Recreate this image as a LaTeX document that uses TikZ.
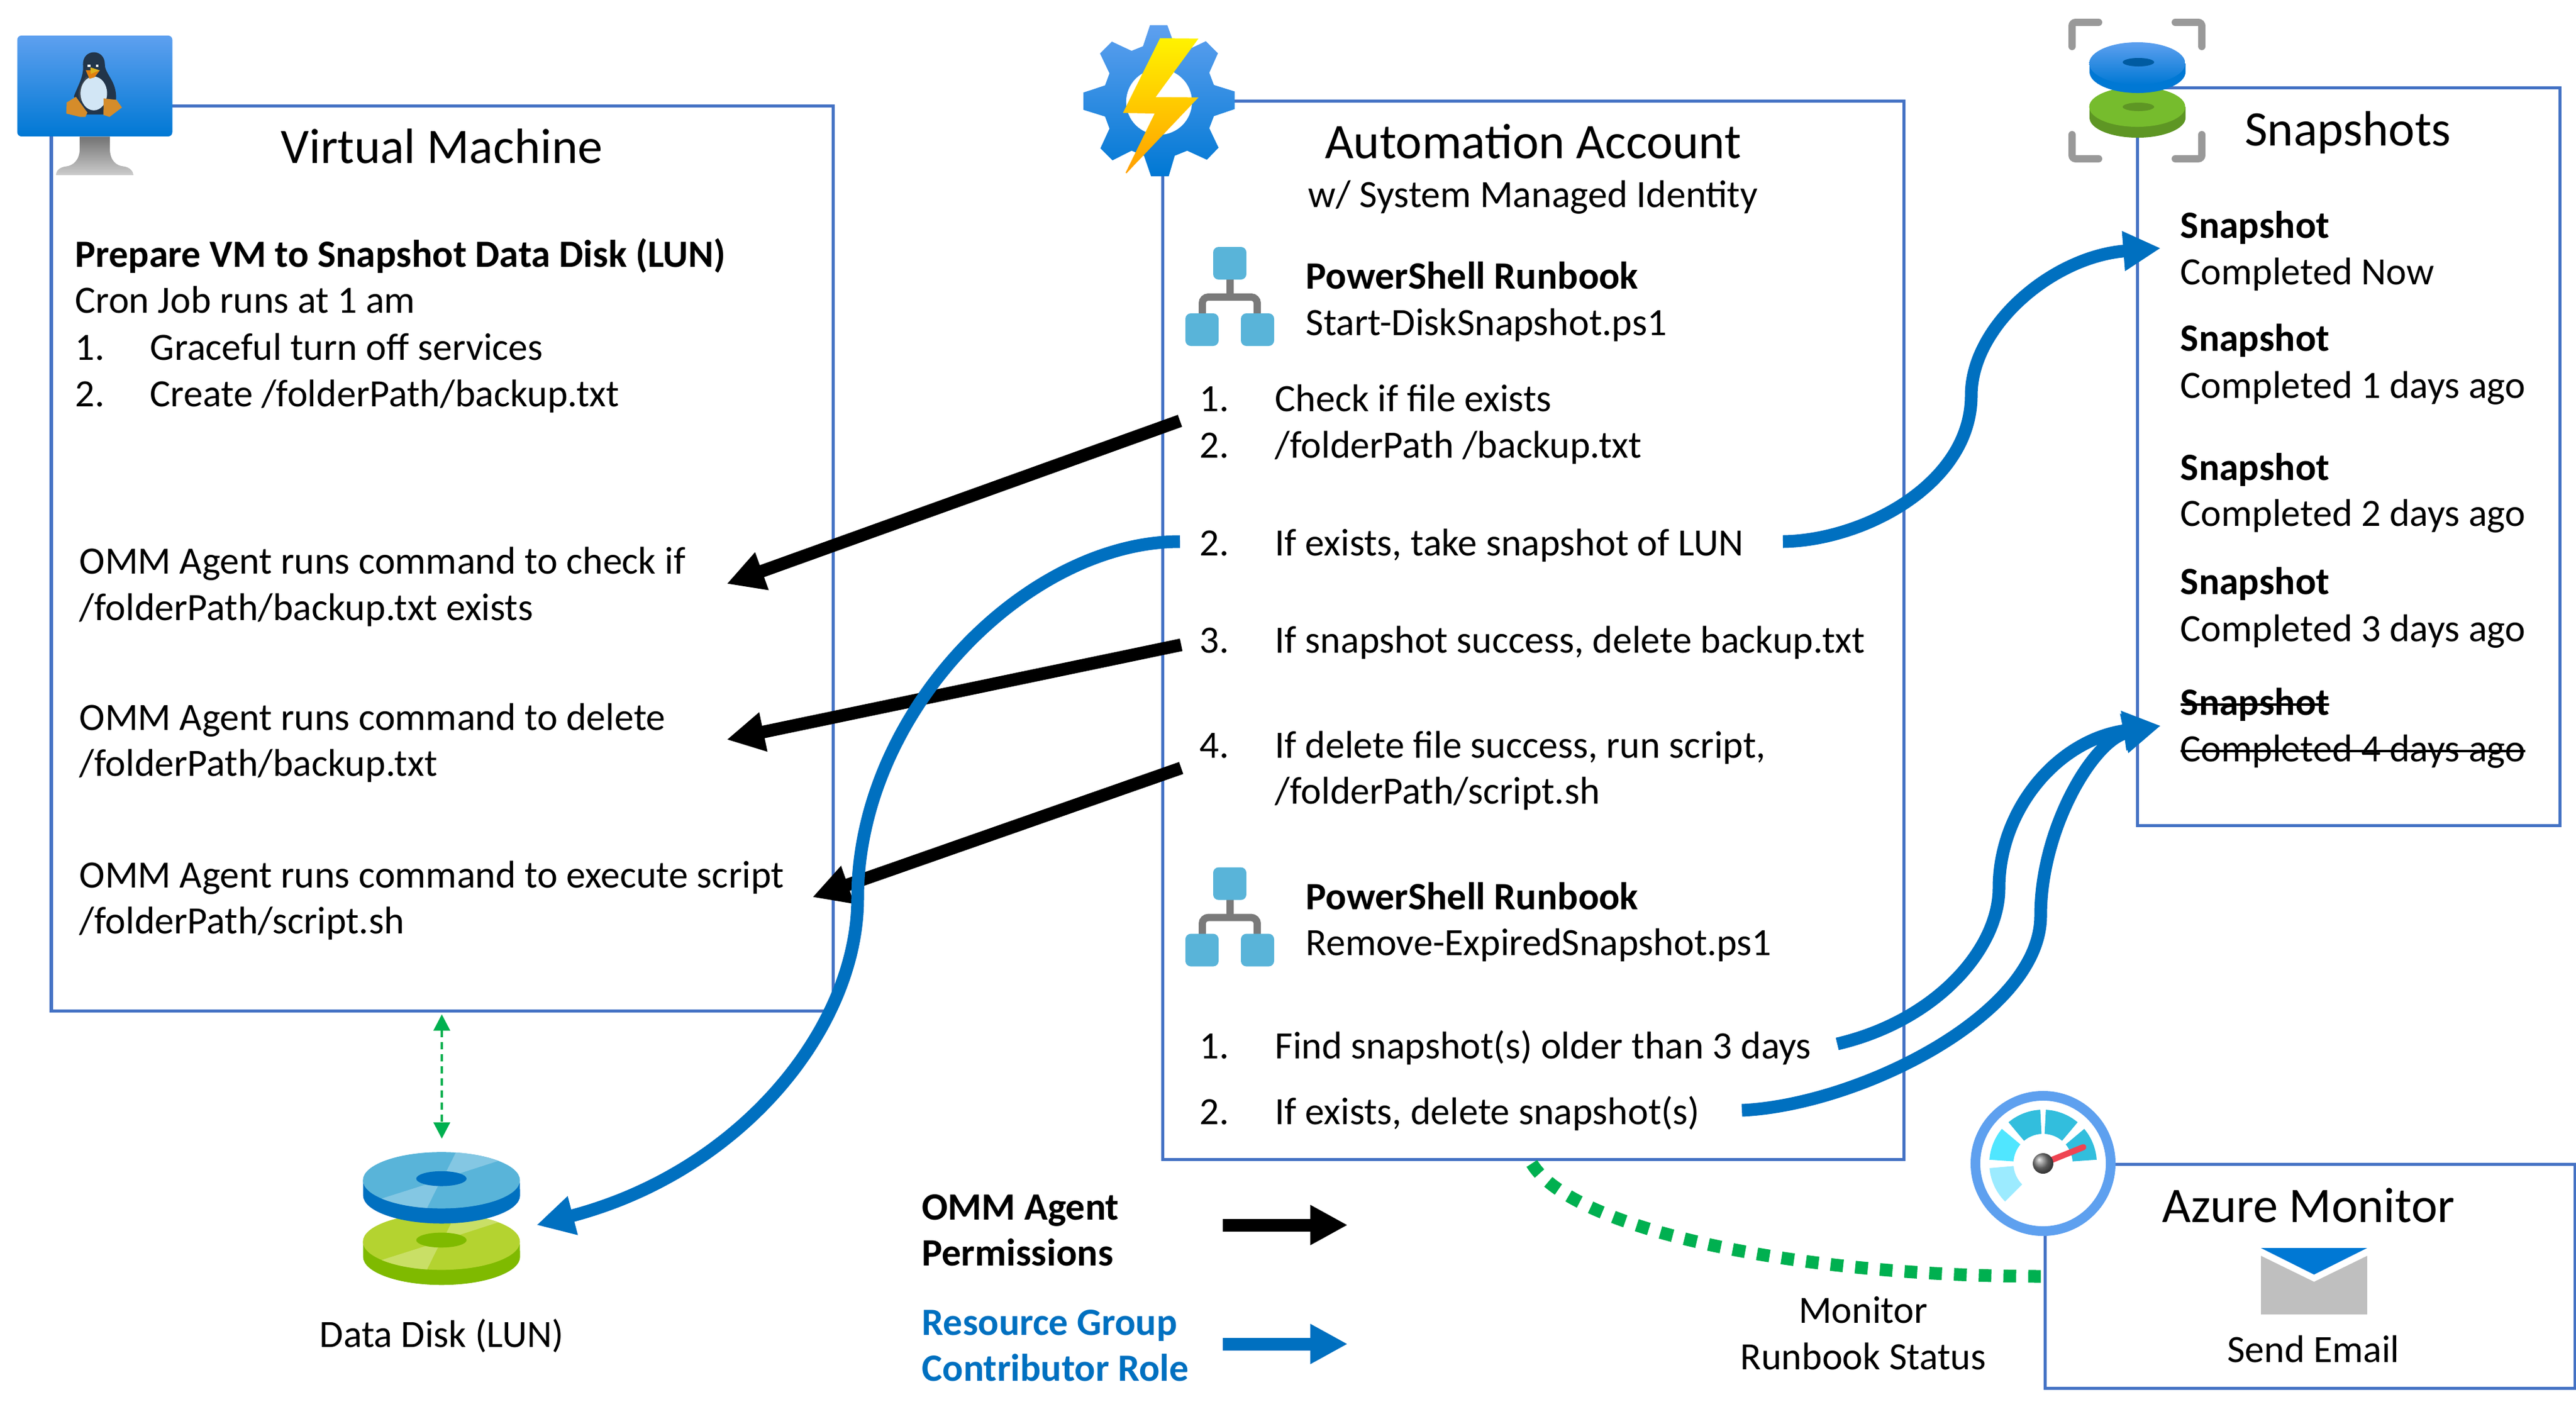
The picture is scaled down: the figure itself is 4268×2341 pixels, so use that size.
\documentclass[tikz,border=0pt]{standalone}
\usepackage{fontspec}
\setmainfont{Carlito}
\usetikzlibrary{arrows.meta,calc,positioning}
\definecolor{boxblue}{HTML}{4472C4}
\definecolor{azure}{HTML}{0070C0}
\definecolor{iconhi}{HTML}{5EA0EF}
\definecolor{iconlo}{HTML}{0078D4}
\definecolor{okgreen}{HTML}{00B050}
\definecolor{tile}{HTML}{59B4D9}
\definecolor{tilelight}{HTML}{84C7E3}
\definecolor{limetop}{HTML}{B4D330}
\definecolor{limelight}{HTML}{C9DF66}
\definecolor{limeside}{HTML}{7FBA00}
\definecolor{snapgreen}{HTML}{76BC2D}
\definecolor{snapside}{HTML}{5E9624}
\definecolor{snaphole}{HTML}{005BA1}
\definecolor{gaugea}{HTML}{32BEDD}
\definecolor{gaugeb}{HTML}{50E6FF}
\definecolor{gaugec}{HTML}{9CEBFF}
\definecolor{needle}{HTML}{EF4452}
\definecolor{tuxdark}{HTML}{22354A}
\definecolor{tuxgrey}{HTML}{3E4650}
\definecolor{tuxbelly}{HTML}{D2E6F5}
\definecolor{tuxfoot}{HTML}{D58C2A}
\definecolor{tuxbeak}{HTML}{E08010}
\definecolor{tuxbeakhi}{HTML}{DDB21E}
\newcommand{\bodyfont}{\fontsize{18.2}{22}\selectfont}
\newcommand{\titlefont}{\fontsize{23.4}{28}\selectfont}
\newsavebox{\strikebox}
\newcommand{\struck}[1]{\sbox{\strikebox}{#1}\usebox{\strikebox}\llap{\rule[0.24em]{\wd\strikebox}{1pt}}}
% runbook icon, #1 is how far it moves down
\newcommand{\runbookicon}[1]{
  \begin{scope}[yshift=-#1]
    \draw[line width=0.12cm,color=black!52,rounded corners=0.1cm] (1992,530) -- (1992,492) -- (2083,492) -- (2083,530);
    \draw[line width=0.12cm,color=black!52] (2038,460) -- (2038,492);
    \fill[tile,rounded corners=0.09cm] (2010,409) rectangle (2065,463);
    \fill[tile,rounded corners=0.09cm] (1964,519) rectangle (2019,573);
    \fill[tile,rounded corners=0.09cm] (2056,519) rectangle (2111,573);
  \end{scope}
}
% one plate of the data disk
\newcommand{\dataplate}[4]{
  \begin{scope}[shift={(540,1850)},yshift=-#1,x=0.0033333cm,y=-0.0033333cm]
    \fill[#4] (185,315) -- (185,390) arc[start angle=180,end angle=360,x radius=1.3cm,y radius=0.4667cm] -- (965,315) -- cycle;
    \fill[#2] (575,315) ellipse[x radius=1.3cm,y radius=0.4667cm];
    \begin{scope}
      \clip (575,315) ellipse[x radius=1.3cm,y radius=0.4667cm];
      \fill[#3] (600,270) -- (660,150) -- (900,205) -- (668,280) -- cycle;
      \fill[#3] (495,337) -- (240,418) -- (490,480) -- (558,343) -- cycle;
    \end{scope}
    \fill[#4] (575,307) ellipse[x radius=0.4167cm,y radius=0.1233cm];
  \end{scope}
}
% one sector of the gauge
\newcommand{\gaugepart}[3]{
  \fill[#3] ($(gauge)+(#1:0.89cm)$) arc[start angle=#1,end angle=#2,radius=0.89cm] -- ($(gauge)+(#2:0.49cm)$) arc[start angle=#2,end angle=#1,radius=0.49cm] -- cycle;
}
\tikzset{
  txt/.style={anchor=base west,inner sep=0pt,font=\bodyfont},
  mid/.style={anchor=base,inner sep=0pt,font=\bodyfont},
  head/.style={anchor=center,inner sep=0pt,font=\titlefont},
  boxline/.style={draw=boxblue,line width=0.05cm,anchor=north west,inner sep=0pt,outer sep=0pt},
  blackarrow/.style={line width=0.21cm,black,-{Triangle[length=0.62cm,width=0.62cm]}},
  bluearrow/.style={line width=0.21cm,azure,-{Triangle[length=0.62cm,width=0.62cm]}},
}
\begin{document}
\begin{tikzpicture}[x=0.01cm,y=-0.01cm]
  \useasboundingbox (0,0) rectangle (4268,2341);
  % the four boxes
  \node[boxline,minimum width=12.95cm,minimum height=14.99cm] (vmbox) at (85,175) {};
  \node[boxline,minimum width=12.28cm,minimum height=17.52cm] (autobox) at (1926,167) {};
  \node[boxline,minimum width=7.0cm,minimum height=12.22cm] (snapbox) at (3541,145) {};
  \node[boxline,minimum width=8.78cm,minimum height=3.71cm] (monbox) at (3388,1928) {};

  % virtual machine icon
  \begin{scope}[x=0.0033333cm,y=-0.0033333cm]
    \shade[top color=black!55,bottom color=black!20] (397,680) -- (397,740) .. controls (397,800) and (360,825) .. (330,828) .. controls (295,832) and (280,850) .. (278,872) -- (665,872) .. controls (662,850) and (645,832) .. (615,828) .. controls (580,825) and (547,800) .. (547,740) -- (547,680) -- cycle;
    \shade[top color=iconhi,bottom color=iconlo,rounded corners=0.07cm] (86,177) rectangle (858,679);
    % penguin
    \fill[tuxdark] (413,320) .. controls (413,240) and (522,240) .. (522,320) .. controls (522,370) and (580,400) .. (578,490) -- (560,570) -- (420,570) -- (368,480) .. controls (385,430) and (420,380) .. (413,320) -- cycle;
    \fill[tuxgrey] (430,380) .. controls (395,430) and (380,470) .. (400,500) -- (440,530) -- (460,400) -- cycle;
    \fill[tuxbelly] (467,465) ellipse[x radius=0.22cm,y radius=0.28cm];
    \fill[tuxbeak] (427,350) -- (497,350) -- (470,385) -- (445,392) -- cycle;
    \fill[tuxbeakhi] (450,335) -- (495,350) -- (452,368) -- cycle;
    \fill[white] (437,321) rectangle (450,333);
    \fill[white] (478,321) rectangle (491,333);
    \fill[tuxfoot] (332,510) -- (378,482) -- (435,560) -- (425,582) -- (400,582) -- (330,565) -- cycle;
    \fill[tuxfoot] (516,490) -- (580,497) -- (607,535) -- (545,582) -- (515,572) -- cycle;
  \end{scope}

  % automation gear and bolt
  \begin{scope}[shift={(1750,0)},x=0.0033333cm,y=-0.0033333cm]
    \shade[top color=iconhi,bottom color=iconlo] (467,125) -- (553,125) -- (590,228) -- (650,250) -- (745,205) -- (805,265) -- (762,362) -- (785,423) -- (888,455) -- (888,543) -- (785,578) -- (762,638) -- (808,735) -- (750,795) -- (652,750) -- (590,775) -- (560,877) -- (472,877) -- (437,775) -- (375,750) -- (280,798) -- (220,738) -- (265,640) -- (243,580) -- (137,547) -- (137,460) -- (243,425) -- (265,365) -- (218,266) -- (277,207) -- (375,253) -- (432,230) -- cycle;
    \fill[white] (512,507) circle[radius=0.545cm];
    \shade[top color=yellow!90!orange,bottom color=orange!75!yellow] (517,190) -- (708,192) -- (495,483) -- (708,485) -- (350,862) -- (345,860) -- (490,565) -- (332,562) -- cycle;
  \end{scope}

  % snapshot icon
  \begin{scope}[line width=0.12cm,color=black!40,line cap=round,rounded corners=0.06cm]
    \draw (3433,77) -- (3433,37) -- (3477,37);
    \draw (3604,37) -- (3648,37) -- (3648,77);
    \draw (3433,223) -- (3433,263) -- (3477,263);
    \draw (3604,263) -- (3648,263) -- (3648,223);
  \end{scope}
  \fill[snapside] (3462,177) -- (3462,195) arc[start angle=180,end angle=360,x radius=0.795cm,y radius=0.33cm] -- (3621,177) -- cycle;
  \fill[snapgreen] (3541,177) ellipse[x radius=0.795cm,y radius=0.33cm];
  \fill[snapside] (3543,177) ellipse[x radius=0.26cm,y radius=0.07cm];
  \fill[iconlo] (3462,105) -- (3462,119) arc[start angle=180,end angle=360,x radius=0.795cm,y radius=0.35cm] -- (3621,105) -- cycle;
  \shade[top color=iconhi,bottom color=iconlo] (3541,105) ellipse[x radius=0.795cm,y radius=0.35cm];
  \fill[snaphole] (3543,103) ellipse[x radius=0.26cm,y radius=0.07cm];

  % data disk
  \dataplate{1.017cm}{limetop}{limelight}{limeside}
  \dataplate{0cm}{tile}{tilelight}{azure}

  % runbook icons
  \runbookicon{0cm}
  \runbookicon{10.27cm}

  % monitor gauge
  \coordinate (gauge) at (3385,1927);
  \fill[white] (gauge) circle[radius=1.12cm];
  \draw[iconhi,line width=0.16cm] (gauge) circle[radius=1.12cm];
  \gaugepart{4}{40}{gaugea}
  \gaugepart{50}{87}{gaugea}
  \gaugepart{93}{130}{gaugea}
  \gaugepart{140}{176}{gaugeb}
  \gaugepart{185}{225}{gaugec}
  \draw[needle,line width=0.1cm,line cap=round] (gauge) -- ++(22:0.72cm);
  \shade[ball color=black!50] (gauge) circle[radius=0.17cm];

  % envelope
  \fill[black!25] (3746,2080) -- (3834,2123) -- (3922,2080) -- (3922,2177) -- (3746,2177) -- cycle;
  \fill[iconlo] (3746,2067) -- (3922,2067) -- (3834,2111) -- cycle;

  % virtual machine text
  \node[head] (vmtitle) at (732,242) {Virtual Machine};
  \node[txt] (vmprep) at (124,442) {\textbf{Prepare VM to Snapshot Data Disk (LUN)}};
  \node[txt] (vmcron) at (124,518) {Cron Job runs at 1 am};
  \node[txt] (vmnuma) at (124,596) {1.};
  \node[txt] (vmstepa) at (248,596) {Graceful turn off services};
  \node[txt] (vmnumb) at (124,673) {2.};
  \node[txt] (vmstepb) at (248,673) {Create /folderPath/backup.txt};
  \node[txt] (omma) at (131,950) {OMM Agent runs command to check if};
  \node[txt] (ommb) at (131,1027) {/folderPath/backup.txt exists};
  \node[txt] (ommc) at (131,1209) {OMM Agent runs command to delete};
  \node[txt] (ommd) at (131,1285) {/folderPath/backup.txt};
  \node[txt] (omme) at (131,1470) {OMM Agent runs command to execute script};
  \node[txt] (ommf) at (131,1546) {/folderPath/script.sh};

  % automation account text
  \node[head] (autotitle) at (2540,234) {Automation Account};
  \node[mid] (autosub) at (2540,343) {w/ System Managed Identity};
  \node[txt] (rba) at (2163,478) {\textbf{PowerShell Runbook}};
  \node[txt] (rbafile) at (2163,555) {Start-DiskSnapshot.ps1};
  \node[txt] (chknum) at (1987,681) {1.};
  \node[txt] (chk) at (2112,681) {Check if file exists};
  \node[txt] (pathnum) at (1987,758) {2.};
  \node[txt] (path) at (2112,758) {/folderPath /backup.txt};
  \node[txt] (takenum) at (1987,920) {2.};
  \node[txt] (take) at (2112,920) {If exists, take snapshot of LUN};
  \node[txt] (delnum) at (1987,1081) {3.};
  \node[txt] (del) at (2112,1081) {If snapshot success, delete backup.txt};
  \node[txt] (runnum) at (1987,1255) {4.};
  \node[txt] (run) at (2112,1255) {If delete file success, run script,};
  \node[txt] (runpath) at (2112,1331) {/folderPath/script.sh};
  \node[txt] (rbb) at (2163,1506) {\textbf{PowerShell Runbook}};
  \node[txt] (rbbfile) at (2163,1582) {Remove-ExpiredSnapshot.ps1};
  \node[txt] (findnum) at (1987,1753) {1.};
  \node[txt] (find) at (2112,1753) {Find snapshot(s) older than 3 days};
  \node[txt] (rmnum) at (1987,1862) {2.};
  \node[txt] (rm) at (2112,1862) {If exists, delete snapshot(s)};

  % snapshots text
  \node[head] (snaptitle) at (3890,220) {Snapshots};
  \node[txt] (snapa) at (3612,394) {\textbf{Snapshot}};
  \node[txt] (whena) at (3612,471) {Completed Now};
  \node[txt] (snapb) at (3612,581) {\textbf{Snapshot}};
  \node[txt] (whenb) at (3612,659) {Completed 1 days ago};
  \node[txt] (snapc) at (3612,795) {\textbf{Snapshot}};
  \node[txt] (whenc) at (3612,871) {Completed 2 days ago};
  \node[txt] (snapd) at (3612,984) {\textbf{Snapshot}};
  \node[txt] (whend) at (3612,1062) {Completed 3 days ago};
  \node[txt] (snape) at (3612,1184) {\struck{\textbf{Snapshot}}};
  \node[txt] (whene) at (3612,1261) {\struck{Completed 4 days ago}};

  % bottom text
  \node[mid] (disklabel) at (732,2231) {Data Disk (LUN)};
  \node[txt] (lega) at (1527,2020) {\textbf{OMM Agent}};
  \node[txt] (legb) at (1527,2096) {\textbf{Permissions}};
  \node[txt,azure] (legc) at (1527,2211) {\textbf{Resource Group}};
  \node[txt,azure] (legd) at (1527,2287) {\textbf{Contributor Role}};
  \node[mid] (mona) at (3087,2191) {Monitor};
  \node[mid] (monb) at (3087,2268) {Runbook Status};
  \node[head] (montitle) at (3825,1996) {Azure Monitor};
  \node[mid] (mailtext) at (3833,2256) {Send Email};

  % free ends of the connectors
  \coordinate (fromchk) at (1955,697);
  \coordinate (tochk) at (1204,967);
  \coordinate (fromdel) at (1957,1068);
  \coordinate (todel) at (1204,1225);
  \coordinate (fromrun) at (1957,1272);
  \coordinate (torun) at (1346,1486);
  \coordinate (fromdisk) at (1955,897);
  \coordinate (todisk) at (889,2029);
  \coordinate (fromtake) at (2954,897);
  \coordinate (tonow) at (3580,411);
  \coordinate (fromfind) at (3044,1729);
  \coordinate (fromrm) at (2886,1839);
  \coordinate (toold) at (3580,1202);
  \coordinate (legblacka) at (2026,2029);
  \coordinate (legblackb) at (2233,2029);
  \coordinate (legbluea) at (2026,2226);
  \coordinate (legblueb) at (2233,2226);
  \coordinate (diskup) at (732,1680);
  \coordinate (diskdown) at (732,1886);
  \coordinate (monfrom) at (2538,1927);
  \coordinate (monto) at (3387,2114);

  \draw[blackarrow] (fromchk) -- (tochk);
  \draw[blackarrow] (fromdel) -- (todel);
  \draw[blackarrow] (fromrun) -- (torun);
  \draw[bluearrow] (fromdisk) .. controls (1700,897) and (1421,1180) .. (1421,1488) .. controls (1421,1700) and (1230,1940) .. (todisk);
  \draw[bluearrow] (fromtake) .. controls (3090,895) and (3266,800) .. (3266,655) .. controls (3266,540) and (3400,425) .. (tonow);
  \draw[bluearrow] (fromfind) .. controls (3210,1690) and (3312,1570) .. (3312,1471) .. controls (3312,1340) and (3410,1225) .. (toold);
  \draw[bluearrow] (fromrm) .. controls (3080,1830) and (3381,1680) .. (3381,1517) .. controls (3381,1370) and (3470,1225) .. (toold);
  \draw[blackarrow] (legblacka) -- (legblackb);
  \draw[bluearrow] (legbluea) -- (legblueb);
  \draw[okgreen,line width=0.04cm,dash pattern=on 0.12cm off 0.08cm,{Triangle[length=0.27cm,width=0.27cm]}-{Triangle[length=0.27cm,width=0.27cm]}] (diskup) -- (diskdown);
  \draw[okgreen,line width=0.21cm,dash pattern=on 0.21cm off 0.2cm] (monfrom) .. controls (2600,2030) and (2950,2114) .. (monto);
\end{tikzpicture}
\end{document}
